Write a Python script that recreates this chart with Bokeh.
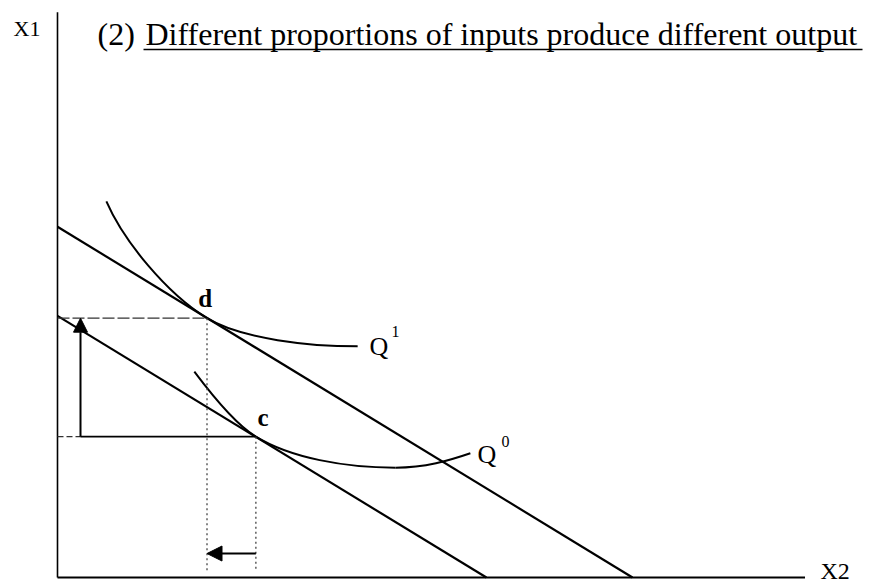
from bokeh.plotting import figure
from bokeh.models import Range1d, Arrow, NormalHead
from bokeh.core.properties import value
from bokeh.embed import file_html
from bokeh.resources import INLINE

# Two parallel isocost lines (intercepts on the X1 and X2 axes)
budget_names = ["upper", "lower"]
budget_x1_intercepts = [6.1, 4.55]
budget_x2_intercepts = [10.0, 7.46]

# Tangency points of the isoquants with the isocost lines
tangency_names = ["d", "c"]
tangency_x2 = [2.6, 3.45]
tangency_x1 = [4.51, 2.45]

# Isoquant Q1: cubic Bezier pieces (start, control 1, control 2, end)
q1_x0 = [0.85, 2.6]
q1_y0 = [6.54, 4.51]
q1_cx0 = [1.15, 3.2]
q1_cy0 = [5.85, 4.145]
q1_cx1 = [1.9, 4.4]
q1_cy1 = [4.94, 4.02]
q1_x1 = [2.6, 5.22]
q1_y1 = [4.51, 4.02]

# Isoquant Q0
q0_x0 = [2.38, 3.45, 5.88]
q0_y0 = [3.58, 2.45, 1.91]
q0_cx0 = [2.68, 4.05, 6.4]
q0_cy0 = [3.18, 2.08, 1.91]
q0_cx1 = [3.1, 5.0, 6.8]
q0_cy1 = [2.66, 1.91, 2.03]
q0_x1 = [3.45, 5.88, 7.18]
q0_y1 = [2.45, 1.91, 2.16]

axis_x2_end = 13.0
axis_x1_end = 9.83

title_number = "(2)"
title_text = "Different proportions of inputs produce different output"

SERIF = value("Liberation Serif")

p = figure(width=888, height=585,
           x_range=Range1d(-0.9913, 14.452), y_range=Range1d(-0.139, 10.035),
           x_axis_type=None, y_axis_type=None,
           output_backend="svg", toolbar_location=None,
           min_border=0, background_fill_color="white")
p.grid.visible = False
p.outline_line_color = None

# axes
p.line([0, 0], [0, axis_x1_end], line_color="black", line_width=1.6)
p.line([0, axis_x2_end], [0, 0], line_color="black", line_width=2.2)

# isocost lines
for a1, a2 in zip(budget_x1_intercepts, budget_x2_intercepts):
    p.line([0, a2], [a1, 0], line_color="black", line_width=2.2)

# isoquants
p.bezier(x0=q1_x0, y0=q1_y0, x1=q1_x1, y1=q1_y1,
         cx0=q1_cx0, cy0=q1_cy0, cx1=q1_cx1, cy1=q1_cy1,
         line_color="black", line_width=2)
p.bezier(x0=q0_x0, y0=q0_y0, x1=q0_x1, y1=q0_y1,
         cx0=q0_cx0, cy0=q0_cy0, cx1=q0_cx1, cy1=q0_cy1,
         line_color="black", line_width=2)

dx, cx = tangency_x2
dy, cy = tangency_x1
shaft_x = 0.4
bottom_y = 0.12
arrow_y = 0.417

# guide lines from the tangency points
p.line([0, dx], [dy, dy], line_color="#333333", line_width=1.3, line_dash="12 3")
p.line([0, shaft_x], [cy, cy], line_color="#333333", line_width=1.3, line_dash="6 3")
p.line([shaft_x, cx], [cy, cy], line_color="black", line_width=1.8)
for tx, ty in zip(tangency_x2, tangency_x1):
    p.line([tx, tx], [ty, bottom_y], line_color="#444444", line_width=1.3,
           line_dash="2 3")

# arrows showing the change in input proportions
p.add_layout(Arrow(end=NormalHead(size=14, fill_color="black", line_color="black"),
                   x_start=shaft_x, y_start=cy, x_end=shaft_x, y_end=dy,
                   line_color="black", line_width=2))
p.add_layout(Arrow(end=NormalHead(size=15, fill_color="black", line_color="black"),
                   x_start=cx, y_start=arrow_y, x_end=dx, y_end=arrow_y,
                   line_color="black", line_width=2))


def label(x, y, txt, size, align="left", bold=False):
    p.text(x=[x], y=[y], text=[txt], text_font=SERIF,
           text_font_size=f"{size}px",
           text_font_style="bold" if bold else "normal",
           text_align=align, text_baseline="middle", text_color="black")


# point labels
label(dx - 0.03, dy + 0.35, "d", 25, align="center", bold=True)
label(cx + 0.03, cy + 0.34, "c", 25, bold=True)

# isoquant labels with superscripts
label(5.426, 4.019, "Q", 26)
label(5.809, 4.27, "1", 16)
label(7.304, 2.141, "Q", 26)
label(7.722, 2.372, "0", 16)

# axis labels
label(-0.765, 9.548, "X1", 22)
label(13.27, 0.11, "X2", 24)

# heading
label(0.696, 9.447, title_number, 32)
label(1.53, 9.447, title_text, 32)
p.line([1.496, 14.0], [9.183, 9.183], line_color="black", line_width=1.6)

open("out.html", "w").write(file_html(p, INLINE))
